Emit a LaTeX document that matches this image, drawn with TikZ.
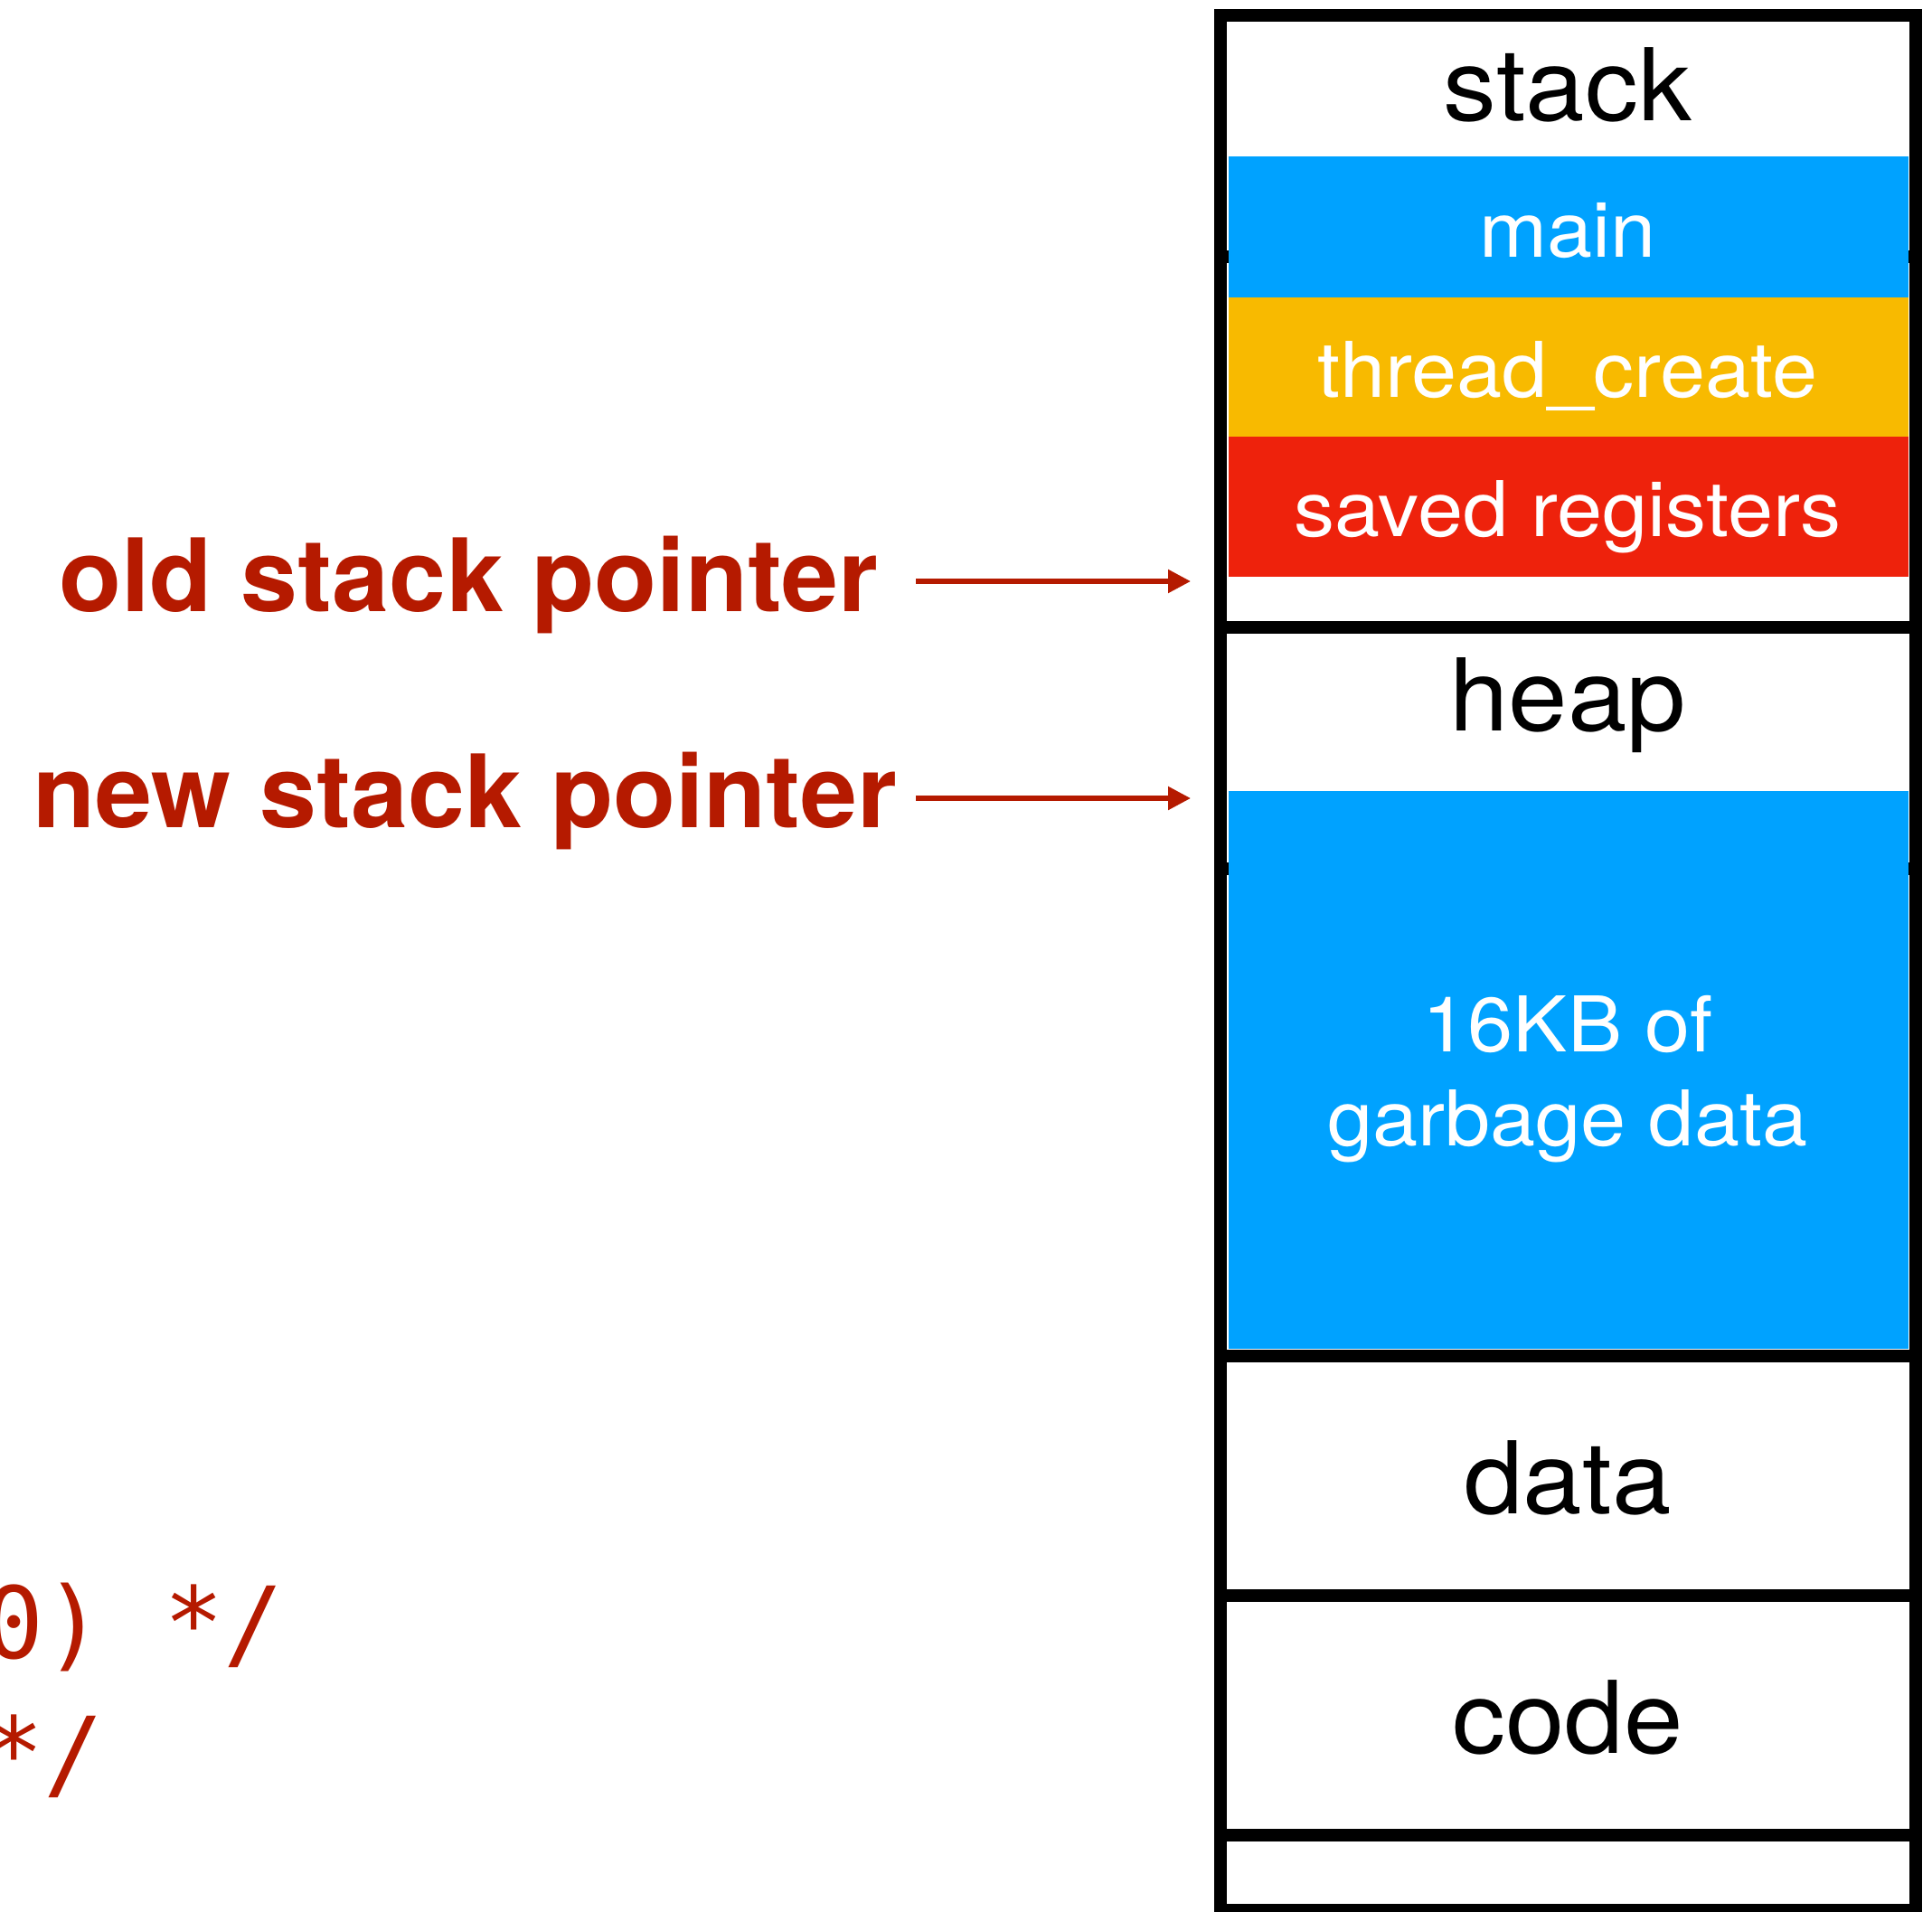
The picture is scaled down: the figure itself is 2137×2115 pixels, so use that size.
\documentclass[tikz,border=0pt]{standalone}
\usepackage{fontspec}
\setmainfont{TeX Gyre Heros}[FakeStretch=1.06]
\newfontfamily\ptrfont{TeX Gyre Heros}[FakeStretch=1.01]
\setmonofont{DejaVu Sans Mono}
\usetikzlibrary{arrows.meta}
\definecolor{ptrred}{HTML}{B51A00}
\definecolor{frameblue}{HTML}{00A2FF}
\definecolor{frameyellow}{HTML}{F8BA00}
\definecolor{framered}{HTML}{EE220C}

\begin{document}
\begin{tikzpicture}[x=0.5pt,y=-0.5pt,
  seglabel/.style={anchor=base, inner sep=0pt, font=\fontsize{55.5pt}{60pt}\selectfont},
  blocklabel/.style={anchor=base, inner sep=0pt, text=white, font=\fontsize{42.5pt}{50pt}\selectfont},
  ptrlabel/.style={anchor=base west, inner sep=0pt, text=ptrred, font=\ptrfont\bfseries\fontsize{56pt}{60pt}\selectfont},
  codeline/.style={anchor=base west, inner sep=0pt, text=ptrred, font=\ttfamily\fontsize{55pt}{72pt}\selectfont},
  ptrarrow/.style={draw=ptrred, line width=2.65pt, -{Triangle[length=12.5pt,width=12.5pt]}},
  divider/.style={draw=black, line width=7pt, line cap=butt},
]
% page area
\clip (0,0) rectangle (2137,2115);
\fill[white] (0,0) rectangle (2137,2115);

% dividers hidden under the coloured frames
\draw[divider] (1350,283.5) -- (2119,283.5);
\draw[divider] (1350,960.5) -- (2119,960.5);

% stack frames
\fill[frameblue]   (1358.5,173) rectangle (2111,329);
\fill[frameyellow] (1358.5,329) rectangle (2111,483);
\fill[framered]    (1358.5,483) rectangle (2111,638);

% heap filler
\fill[frameblue]   (1358.5,875) rectangle (2111,1492);

% segment dividers
\draw[divider] (1350,694)    -- (2119,694);
\draw[divider] (1350,1499.5) -- (2119,1499.5);
\draw[divider] (1350,1764.5) -- (2119,1764.5);
\draw[divider] (1350,2029.5) -- (2119,2029.5);

% address space outline
\draw[line width=7pt] (1350,16.5) rectangle (2119,2112.75);

% segment and frame labels
\node[seglabel]   (stacklbl) at (1734,133)  {stack};
\node[blocklabel] (mainlbl)  at (1734,284)  {main};
\node[blocklabel] (tclbl)    at (1734,439)  {thread\_create};
\node[blocklabel] (srlbl)    at (1734,593)  {saved registers};
\node[seglabel]   (heaplbl)  at (1734,808)  {heap};
\node[blocklabel] (garb1)    at (1734,1163) {16KB of};
\node[blocklabel] (garb2)    at (1734,1267) {garbage data};
\node[seglabel]   (datalbl)  at (1734,1674) {data};
\node[seglabel]   (codelbl)  at (1734,1939) {code};

% stack pointer labels and arrows
\node[ptrlabel] (oldsp) at (65,676) {old stack pointer};
\node[ptrlabel] (newsp) at (36,915) {new stack pointer};
\coordinate (oldtail) at (1013,643);
\coordinate (oldtip)  at (1317,643);
\coordinate (newtail) at (1013,883);
\coordinate (newtip)  at (1317,883);
\draw[ptrarrow] (oldtail) -- (oldtip);
\draw[ptrarrow] (newtail) -- (newtip);

% code comment endings
\node[codeline] (codeA) at (-18,1834) {0) */};
\node[codeline] (codeB) at (-18,1978) {*/};
\end{tikzpicture}
\end{document}
